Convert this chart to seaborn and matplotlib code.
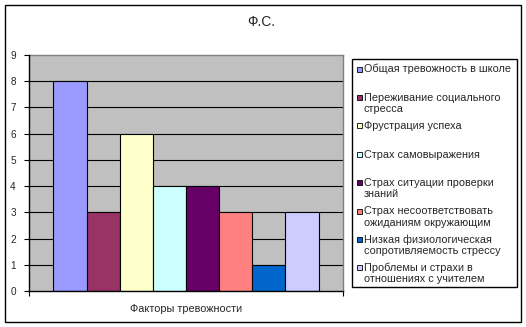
import matplotlib
matplotlib.use("Agg")
import matplotlib.pyplot as plt
from matplotlib.patches import Rectangle
import pandas as pd
import seaborn as sns

# --- data -------------------------------------------------------------
title = "Ф.С."
group_label = "Факторы тревожности"
factors = [
    "Общая тревожность в школе",
    "Переживание социального\nстресса",
    "Фрустрация успеха",
    "Страх самовыражения",
    "Страх ситуации проверки\nзнаний",
    "Страх несоответствовать\nожиданиям окружающим",
    "Низкая физиологическая\nсопротивляемость стрессу",
    "Проблемы и страхи в\nотношениях с учителем",
]
values = [8, 3, 6, 4, 4, 3, 1, 3]
y_ticks = list(range(0, 10))
colors = ["#9999FF", "#993366", "#FFFFCC", "#CCFFFF",
          "#660066", "#FF8080", "#0066CC", "#CCCCFF"]

df = pd.DataFrame({"group": [group_label] * len(factors),
                   "factor": factors,
                   "value": values})

# --- figure -----------------------------------------------------------
sns.set_style("white")
plt.rcParams["font.family"] = ["Liberation Sans", "DejaVu Sans"]

W, H = 526, 327
fig = plt.figure(figsize=(W / 100, H / 100), dpi=100)
fig.patch.set_facecolor("white")


def fx(px):
    return px / W


def fy(py):
    return 1 - py / H


# outer chart border
fig.add_artist(Rectangle((fx(5), fy(322)), fx(516), 317 / H,
                         transform=fig.transFigure, fill=False,
                         edgecolor="black", linewidth=1.0))

ax = fig.add_axes([fx(29), fy(291), fx(343 - 29), (291 - 55) / H])
ax.set_facecolor("#C0C0C0")

sns.barplot(data=df, x="group", y="value", hue="factor",
            hue_order=factors, palette=colors, saturation=1,
            width=0.844, edgecolor="black", linewidth=0.8,
            legend=False, ax=ax, zorder=3)

ax.set_ylim(0, 9)
ax.set_xlim(-0.5, 0.5)
ax.set_yticks(y_ticks)
ax.set_yticklabels([str(t) for t in y_ticks], fontsize=7.2)
for t in y_ticks[1:-1]:
    ax.axhline(t, color="black", linewidth=0.8, zorder=1)

for side in ("top", "right"):
    ax.spines[side].set_color("#808080")
    ax.spines[side].set_linewidth(1.0)
for side in ("left", "bottom"):
    ax.spines[side].set_color("black")
    ax.spines[side].set_linewidth(1.0)
    ax.spines[side].set_zorder(4)

ax.tick_params(axis="y", direction="out", length=3.5, width=0.8,
               color="black", pad=6, left=True)
ax.set_xticks([0])
ax.set_xticklabels([group_label], fontsize=7.8)
ax.tick_params(axis="x", which="major", length=0, pad=9)
ax.set_xticks([-0.5, 0.5], minor=True)
ax.tick_params(axis="x", which="minor", direction="out", length=3.5,
               width=0.8, color="black", bottom=True)
ax.set_xlabel("")
ax.set_ylabel("")

fig.text(fx(261), fy(22), title, ha="center", va="center", fontsize=10)

# legend box
fig.add_artist(Rectangle((fx(352), fy(287)), fx(517 - 352), (287 - 59) / H,
                         transform=fig.transFigure, fill=False,
                         edgecolor="black", linewidth=1.0))
first_y, step, line_gap = 69, 28.4, 11
for i, (lab, col) in enumerate(zip(factors, colors)):
    cy = first_y + i * step
    fig.add_artist(Rectangle((fx(357), fy(cy + 2.5)), fx(5), 5 / H,
                             transform=fig.transFigure, facecolor=col,
                             edgecolor="black", linewidth=0.6))
    for j, line in enumerate(lab.split("\n")):
        fig.text(fx(364), fy(cy + 3.5 + j * line_gap), line, ha="left",
                 va="baseline", fontsize=7.8)

fig.savefig("out.png", dpi=100)
